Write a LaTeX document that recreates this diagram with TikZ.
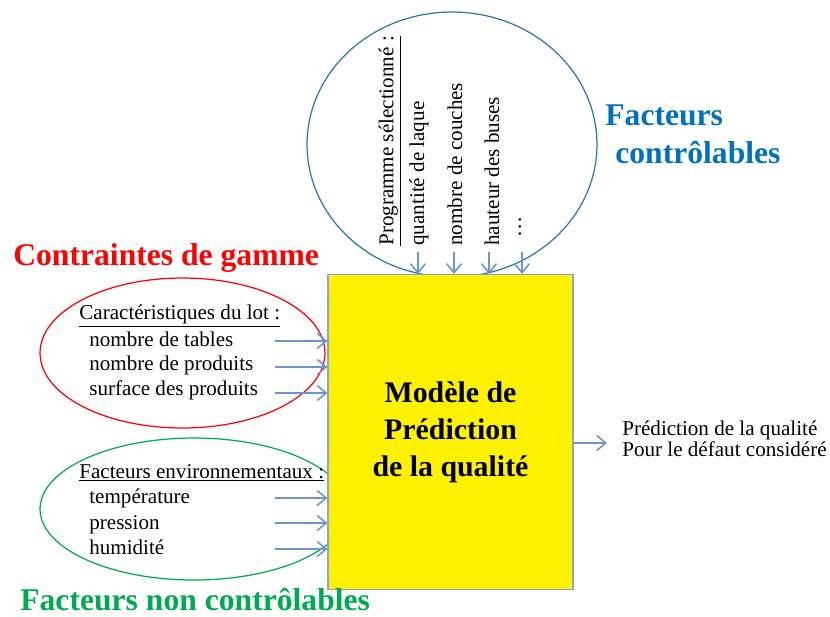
\documentclass[tikz,border=0pt]{standalone}
\usepackage{fontspec}
\setmainfont{Liberation Serif}
\usetikzlibrary{shapes.geometric, positioning, arrows.meta}
\definecolor{ctrlblue}{RGB}{0,112,192}
\definecolor{circblue}{RGB}{46,117,182}
\definecolor{ncgreen}{RGB}{0,170,80}
\definecolor{arrblue}{RGB}{110,150,205}
\definecolor{boxedge}{RGB}{140,165,205}
\tikzset{
  arr/.style={draw=arrblue, line width=0.9pt, -{Straight Barb[length=1.8mm, width=3mm]}},
  item/.style={font=\fontsize{12}{14}\selectfont, inner sep=0pt, anchor=base west},
  vtext/.style={font=\fontsize{12}{14}\selectfont, inner sep=0pt, rotate=90, anchor=west},
  title/.style={font=\bfseries\fontsize{18}{21}\selectfont, inner sep=0pt, anchor=base west},
  zone/.style={ellipse, line width=0.7pt, inner sep=0pt}
}
\begin{document}
\begin{tikzpicture}[x=0.02cm, y=-0.02cm]
\useasboundingbox (0,0) rectangle (830,616);
% zones
\node[zone, draw=circblue, minimum width=5.8cm, minimum height=5.3cm] (ctrl) at (452,144.5) {};
\node[zone, draw=red, minimum width=5.7cm, minimum height=3cm] (lot) at (182.5,353) {};
\node[zone, draw=ncgreen, minimum width=6.16cm, minimum height=2.84cm] (env) at (194,509) {};
% modele
\node[draw=boxedge, line width=0.7pt, fill=yellow, minimum width=4.9cm, minimum height=6.3cm,
  align=center, font=\bfseries\fontsize{17}{21}\selectfont] (model) at (450.5,432) {Modèle de\\Prédiction\\de la qualité};
% titres
\node[title, text=red] (tgamme) at (13,265) {Contraintes de gamme};
\node[title, text=ctrlblue] (tfac) at (605,125) {Facteurs};
\node[title, text=ctrlblue] (tctrl) at (615,163) {contrôlables};
\node[title, text=ncgreen] (tnc) at (20,610) {Facteurs non contrôlables};
% caracteristiques du lot
\node[item] (lot0) at (79,319) {\underline{Caractéristiques du lot :}};
\node[item] (lot1) at (89,346) {nombre de tables};
\node[item] (lot2) at (89,370) {nombre de produits};
\node[item] (lot3) at (89,395) {surface des produits};
% facteurs environnementaux
\node[item] (env0) at (79,478) {\underline{Facteurs environnementaux :}};
\node[item] (env1) at (89,503) {température};
\node[item] (env2) at (89,529) {pression};
\node[item] (env3) at (89,554) {humidité};
% programme
\node[vtext] (prog0) at (390,246) {\underline{Programme sélectionné :}};
\node[vtext] (prog1) at (419,246) {quantité de laque};
\node[vtext] (prog2) at (455,246) {nombre de couches};
\node[vtext] (prog3) at (492,246) {hauteur des buses};
\node[vtext] (prog4) at (520,238) {\ldots};
% sortie
\node[item] (pred1) at (622,435) {Prédiction de la qualité};
\node[item] (pred2) at (622,456) {Pour le défaut considéré};
% fleches
\foreach \y [count=\i] in {341,367,393} {
  \coordinate (l\i) at (275,\y);
  \draw[arr] (l\i) -- (l\i -| model.west);
}
\foreach \y [count=\i] in {498,523,549} {
  \coordinate (e\i) at (275,\y);
  \draw[arr] (e\i) -- (e\i -| model.west);
}
\foreach \x [count=\i] in {418,454,489,522} {
  \coordinate (p\i) at (\x,252);
  \draw[arr] (p\i) -- (p\i |- model.north);
}
\coordinate (out) at (607,443);
\draw[arr] (model.east |- out) -- (out);
\end{tikzpicture}
\end{document}
